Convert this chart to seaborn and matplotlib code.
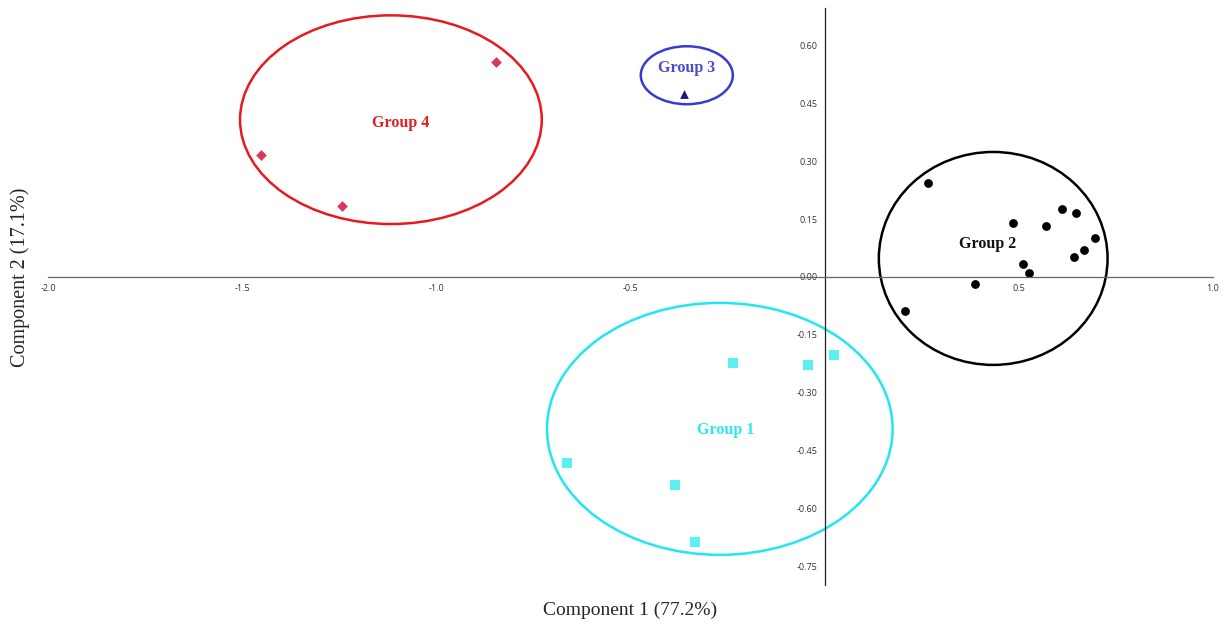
import numpy as np
import pandas as pd
import matplotlib
matplotlib.use("Agg")
import matplotlib.pyplot as plt
from matplotlib.patches import Ellipse
import seaborn as sns

# PCA scores
g1_x = [-0.237, -0.044, 0.023, -0.664, -0.386, -0.335]
g1_y = [-0.222, -0.228, -0.202, -0.481, -0.538, -0.685]
g2_x = [0.265, 0.486, 0.571, 0.612, 0.648, 0.695, 0.669, 0.641, 0.510, 0.525, 0.386, 0.206]
g2_y = [0.243, 0.140, 0.132, 0.176, 0.166, 0.101, 0.070, 0.052, 0.034, 0.010, -0.018, -0.088]
g3_x = [-0.363]
g3_y = [0.473]
g4_x = [-0.847, -1.451, -1.243]
g4_y = [0.556, 0.315, 0.184]

groups = ["Group 1", "Group 2", "Group 3", "Group 4"]
# ellipse centre, width, height (data units)
ell_cx = [-0.27, 0.434, -0.355, -1.117]
ell_cy = [-0.393, 0.048, 0.522, 0.407]
ell_w = [0.89, 0.589, 0.237, 0.777]
ell_h = [0.652, 0.551, 0.150, 0.540]
# label positions
lab_x = [-0.255, 0.419, -0.355, -1.093]
lab_y = [-0.396, 0.085, 0.540, 0.398]

x_ticks = [-2.0, -1.5, -1.0, -0.5, 0.5, 1.0]
y_ticks = [-0.75, -0.60, -0.45, -0.30, -0.15, 0.00, 0.15, 0.30, 0.45, 0.60]

df = pd.concat([
    pd.DataFrame({"pc1": g1_x, "pc2": g1_y, "group": "Group 1"}),
    pd.DataFrame({"pc1": g2_x, "pc2": g2_y, "group": "Group 2"}),
    pd.DataFrame({"pc1": g3_x, "pc2": g3_y, "group": "Group 3"}),
    pd.DataFrame({"pc1": g4_x, "pc2": g4_y, "group": "Group 4"}),
], ignore_index=True)

point_colors = {"Group 1": "#5cf0f0", "Group 2": "#000000",
                "Group 3": "#1a1a80", "Group 4": "#d83a5c"}
markers = {"Group 1": "s", "Group 2": "o", "Group 3": "^", "Group 4": "D"}
sizes = {"Group 1": 60, "Group 2": 40, "Group 3": 40, "Group 4": 30}
ell_colors = ["#22e6f0", "#000000", "#3a3ad0", "#e8191f"]
lab_colors = ["#2ee6f0", "#111111", "#4a4acc", "#e02025"]

sns.set_style("white")

fig = plt.figure(figsize=(12.32, 6.30), dpi=100)
ax = fig.add_axes([48 / 1232, 1 - 585 / 630, (1213 - 48) / 1232, 577 / 630])

for g in groups:
    sub = df[df["group"] == g]
    sns.scatterplot(data=sub, x="pc1", y="pc2", color=point_colors[g],
                    marker=markers[g], s=sizes[g], linewidth=0, ax=ax,
                    legend=False)

for i, g in enumerate(groups):
    ax.add_patch(Ellipse((ell_cx[i], ell_cy[i]), ell_w[i], ell_h[i],
                         fill=False, edgecolor=ell_colors[i], lw=1.8))
    ax.text(lab_x[i], lab_y[i], g, color=lab_colors[i], ha="center",
            va="center", fontsize=11.5, fontweight="bold",
            family="Liberation Serif")

ax.set_xlim(-2.0, 1.0)
ax.set_ylim(-0.797, 0.696)
ax.spines["left"].set_position(("data", 0))
ax.spines["bottom"].set_position(("data", 0))
ax.spines["right"].set_visible(False)
ax.spines["top"].set_visible(False)
ax.spines["left"].set_color("#222222")
ax.spines["bottom"].set_color("#666666")
ax.spines["left"].set_linewidth(0.9)
ax.spines["bottom"].set_linewidth(0.9)

ax.set_xticks(x_ticks)
ax.set_xticklabels([f"{v:.1f}" for v in x_ticks])
ax.set_yticks(y_ticks)
ax.set_yticklabels([f"{v:.2f}" for v in y_ticks])
ax.tick_params(axis="both", direction="out", length=3, width=0.7,
               color="#666666", labelsize=6.5, labelcolor="#333333", pad=2)
for lbl in ax.get_xticklabels() + ax.get_yticklabels():
    lbl.set_family("Open Sans")
ax.set_xlabel("")
ax.set_ylabel("")

fig.text(630 / 1232, 1 - 610 / 630, "Component 1 (77.2%)", ha="center",
         va="center", fontsize=14, family="Liberation Serif")
fig.text(20 / 1232, 1 - 277 / 630, "Component 2 (17.1%)", ha="center",
         va="center", rotation=90, fontsize=14.5, family="Liberation Serif")

fig.savefig("out.png", dpi=100)
